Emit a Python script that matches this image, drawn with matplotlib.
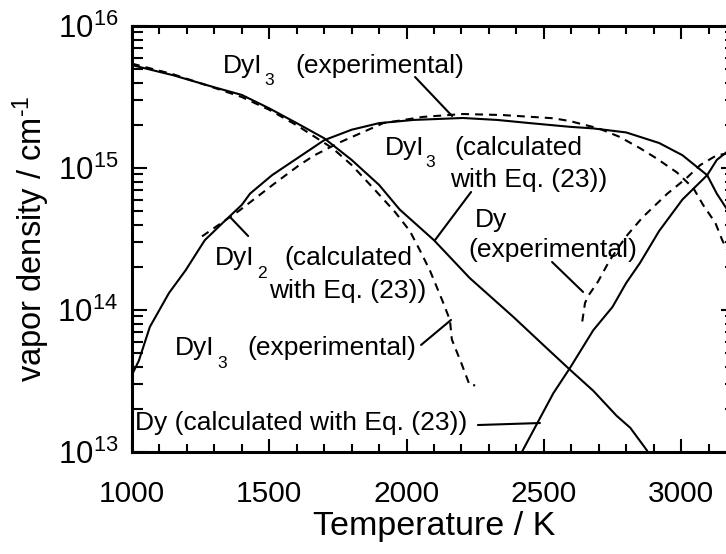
import matplotlib
matplotlib.use("Agg")
import matplotlib.pyplot as plt
from matplotlib.ticker import LogLocator, MultipleLocator, NullFormatter

plt.rcParams["font.family"] = ["Liberation Sans", "DejaVu Sans"]
plt.rcParams["mathtext.fontset"] = "custom"
plt.rcParams["mathtext.rm"] = "Liberation Sans"
plt.rcParams["mathtext.it"] = "Liberation Sans"
plt.rcParams["mathtext.bf"] = "Liberation Sans"

# DyI3, calculated with Eq. (23)
t_dyi3_calc = [1000, 1150, 1300, 1400, 1500, 1600, 1700, 1800, 1900, 1975, 2100,
               2230, 2390, 2510, 2595, 2680, 2765, 2815, 2875, 2900]
n_dyi3_calc = [5.3e15, 4.5e15, 3.7e15, 3.27e15, 2.63e15, 2.07e15, 1.62e15, 1.14e15,
               7.6e14, 5.1e14, 3.1e14, 1.68e14, 8.9e13, 5.4e13, 3.8e13, 2.7e13,
               1.8e13, 1.48e13, 1.03e13, 8.5e12]

# DyI3, experimental
t_dyi3_exp = [1000, 1150, 1300, 1400, 1500, 1600, 1730, 1800, 1885, 1958, 2012,
              2050, 2085, 2130, 2158, 2165, 2200, 2230, 2250]
n_dyi3_exp = [5.43e15, 4.57e15, 3.67e15, 3.16e15, 2.57e15, 2.0e15, 1.38e15, 1.05e15,
              7.0e14, 4.9e14, 3.6e14, 2.6e14, 1.9e14, 1.17e14, 8.5e13, 6.2e13,
              4.2e13, 2.95e13, 2.95e13]

# DyI2, calculated with Eq. (23)
t_dyi2_calc = [1000, 1025, 1065, 1135, 1195, 1265, 1330, 1400, 1430, 1510, 1610,
               1700, 1800, 1900, 2025, 2205, 2330, 2450, 2595, 2680, 2800, 2920,
               3005, 3095, 3130, 3165, 3200]
n_dyi2_calc = [3.5e13, 4.4e13, 7.6e13, 1.32e14, 1.9e14, 3.1e14, 4.1e14, 5.5e14,
               6.6e14, 8.9e14, 1.2e15, 1.57e15, 1.86e15, 2.07e15, 2.18e15, 2.25e15,
               2.18e15, 2.07e15, 1.95e15, 1.9e15, 1.78e15, 1.5e15, 1.23e15, 8.9e14,
               6.6e14, 5.2e14, 4.0e14]

# DyI2, experimental
t_dyi2_exp = [1255, 1390, 1520, 1610, 1665, 1755, 1850, 1915, 2060, 2205, 2350,
              2535, 2595, 2700, 2775, 2850, 2910, 2985, 3045, 3080, 3125, 3150, 3200]
n_dyi2_exp = [3.3e14, 5.0e14, 7.8e14, 1.05e15, 1.23e15, 1.51e15, 1.82e15, 2.07e15,
              2.29e15, 2.4e15, 2.36e15, 2.24e15, 2.14e15, 1.9e15, 1.66e15, 1.38e15,
              1.17e15, 9.3e14, 7.2e14, 5.5e14, 4.1e14, 3.1e14, 2.0e14]

# Dy, calculated with Eq. (23)
t_dy_calc = [2420, 2475, 2535, 2595, 2680, 2750, 2800, 2850, 2920, 3005, 3095,
             3130, 3165, 3200]
n_dy_calc = [1.0e13, 1.58e13, 2.6e13, 3.9e13, 7.2e13, 1.05e14, 1.55e14, 2.14e14,
             3.6e14, 6.0e14, 8.9e14, 1.14e15, 1.29e15, 1.48e15]

# Dy, experimental
t_dy_exp = [2640, 2650, 2662, 2697, 2740, 2800, 2860, 2950, 3020, 3070, 3130,
            3165, 3200]
n_dy_exp = [8.3e13, 1.12e14, 1.26e14, 1.58e14, 2.24e14, 3.3e14, 4.5e14, 6.6e14,
            8.5e14, 1.05e15, 1.23e15, 1.26e15, 1.32e15]

fig = plt.figure(figsize=(7.26, 5.54), dpi=100)
ax = fig.add_axes([132 / 726, 102 / 554, 604 / 726, 426 / 554])

solid = dict(color="black", lw=1.5, solid_joinstyle="round")
dashed = dict(color="black", lw=1.5, dashes=(3.8, 2.9))

ax.plot(t_dyi3_calc, n_dyi3_calc, **solid)
ax.plot(t_dyi3_exp, n_dyi3_exp, **dashed)
ax.plot(t_dyi2_calc, n_dyi2_calc, **solid)
ax.plot(t_dyi2_exp, n_dyi2_exp, **dashed)
ax.plot(t_dy_calc, n_dy_calc, **solid)
ax.plot(t_dy_exp, n_dy_exp, **dashed)

ax.set_yscale("log")
ax.set_xlim(1000, 3200)
ax.set_ylim(1e13, 1e16)

ax.xaxis.set_major_locator(MultipleLocator(500))
ax.xaxis.set_minor_locator(MultipleLocator(100))
ax.yaxis.set_major_locator(LogLocator(base=10, numticks=10))
ax.yaxis.set_minor_locator(LogLocator(base=10, subs=range(2, 10), numticks=20))
ax.yaxis.set_minor_formatter(NullFormatter())

ax.tick_params(which="both", direction="in", top=True, right=True, width=1.5)
ax.tick_params(axis="x", which="major", length=9.5, pad=20, labelsize=21.5)
ax.tick_params(axis="x", which="minor", length=6)
ax.tick_params(axis="y", which="major", length=10.5, pad=10, labelsize=22.5)
ax.tick_params(axis="y", which="minor", length=8)
for s in ax.spines.values():
    s.set_linewidth(2.2)

ax.set_xlabel("Temperature / K", fontsize=24.5, labelpad=2)
ax.set_ylabel(r"vapor density / cm$^{\text{-}1}$", fontsize=23.5, labelpad=4)

fs = 19
fs_sub = 12.5


def txt(x, lg, s, size=fs):
    ax.text(x, 10 ** lg, s, fontsize=size, ha="left", va="baseline")


def leader(x0, lg0, x1, lg1):
    ax.annotate("", xy=(x1, 10 ** lg1), xytext=(x0, 10 ** lg0),
                arrowprops=dict(arrowstyle="-", lw=1.5, color="black",
                                shrinkA=0, shrinkB=0))


# DyI3 (experimental), upper label
txt(1331, 15.669, "DyI")
txt(1481, 15.585, "3", fs_sub)
txt(1594, 15.669, "(experimental)")
leader(2031, 15.641, 2166, 15.366)

# DyI3 (calculated with Eq. (23))
txt(1922, 15.092, "DyI")
txt(2067, 15.007, "3", fs_sub)
txt(2173, 15.092, "(calculated")
txt(2158, 14.866, "with Eq. (23))")
leader(2235, 14.831, 2104, 14.493)

# DyI2 (calculated with Eq. (23))
txt(1302, 14.317, "DyI")
txt(1455, 14.225, "2", fs_sub)
txt(1554, 14.317, "(calculated")
txt(1499, 14.085, "with Eq. (23))")
leader(1423, 14.521, 1357, 14.655)

# DyI3 (experimental), lower label
txt(1157, 13.683, "DyI")
txt(1310, 13.592, "3", fs_sub)
txt(1419, 13.683, "(experimental)")
leader(2053, 13.754, 2162, 13.930)

# Dy (calculated with Eq. (23))
txt(1011, 13.155, "Dy (calculated with Eq. (23))")
leader(2260, 13.190, 2486, 13.204)

# Dy (experimental)
txt(2249, 14.585, "Dy")
txt(2227, 14.373, "(experimental)")
leader(2530, 14.338, 2643, 14.127)

fig.savefig("out.png", dpi=100)
